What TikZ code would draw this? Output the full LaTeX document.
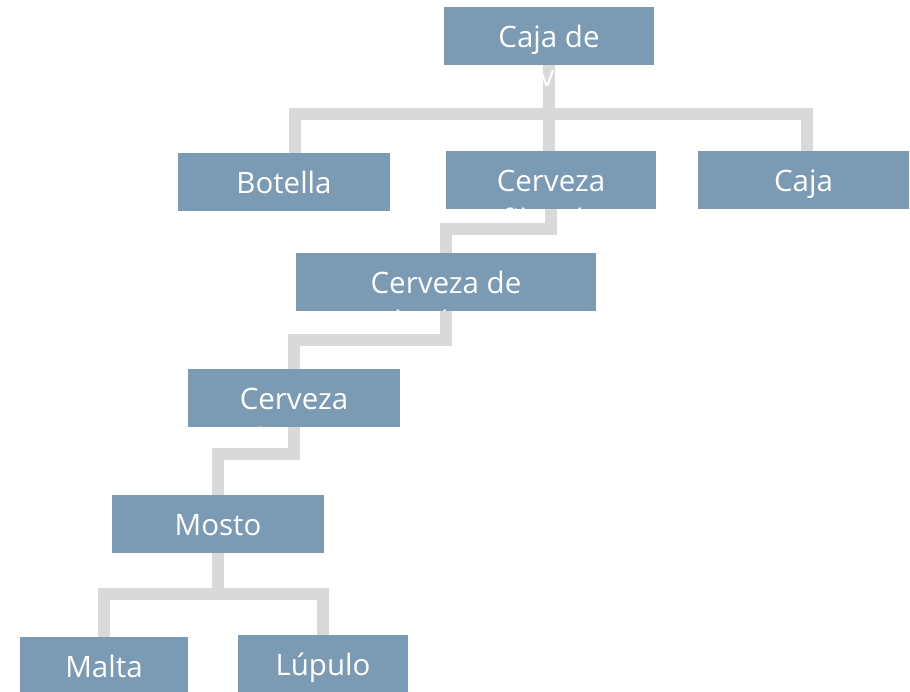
\documentclass[tikz,border=0pt]{standalone}
\usepackage{fontspec}
\setmainfont{Open Sans}
\definecolor{boxfill}{HTML}{7B9AB4}
\definecolor{connc}{HTML}{D9D9D9}
\tikzset{
  box/.style={rectangle, fill=boxfill, draw=none, inner sep=0pt, minimum height=58pt},
  conn/.style={draw=connc, line width=12pt, line join=miter, line cap=butt},
  lbl/.style={anchor=base, inner sep=0pt, text=white, font=\fontsize{29.5}{39}\selectfont}
}
\newcommand{\twol}[2]{\begin{tabular}[t]{@{}c@{}}#1\\#2\end{tabular}}
\begin{document}
\begin{tikzpicture}[x=1pt,y=-1pt]
\useasboundingbox (0,0) rectangle (910,692);
\clip (0,0) rectangle (910,692);
% boxes
\node[box, minimum width=210pt] (cc) at (549,36) {};
\node[box, minimum width=212pt] (bot) at (284,182) {};
\node[box, minimum width=210pt] (cf) at (551,180) {};
\node[box, minimum width=211pt] (caja) at (803.5,180) {};
\node[box, minimum width=300pt] (cd) at (446,282) {};
\node[box, minimum width=212pt] (cj) at (294,398) {};
\node[box, minimum width=212pt] (mo) at (218,524) {};
\node[box, minimum width=168pt] (ma) at (104,666) {};
\node[box, minimum width=170pt] (lu) at (323,664) {};
% top-level connectors
\coordinate (j1) at (549,114);
\draw[conn] (cc.south) -- (cc.south |- cf.north);
\draw[conn] ([xshift=11pt]bot.north) |- (j1);
\draw[conn] ([xshift=3pt]caja.north) |- (j1);
% labels
\node[lbl] (tcc) at ([yshift=-41pt]cc.north) {\twol{Caja de}{cerveza}};
\node[lbl] (tbot) at ([yshift=-41pt]bot.north) {Botella};
\node[lbl] (tcf) at ([yshift=-41pt]cf.north) {\twol{Cerveza}{filtrada}};
\node[lbl] (tcaja) at ([yshift=-41pt]caja.north) {Caja};
\node[lbl] (tcd) at ([yshift=-41pt]cd.north) {\twol{Cerveza de}{bodega}};
\node[lbl] (tcj) at ([yshift=-41pt]cj.north) {\twol{Cerveza}{joven}};
\node[lbl] (tmo) at ([yshift=-41pt]mo.north) {Mosto};
\node[lbl] (tma) at ([yshift=-41pt]ma.north) {Malta};
\node[lbl] (tlu) at ([yshift=-41pt]lu.north) {Lúpulo};
% lower connectors
\coordinate (j2) at (551,229);
\draw[conn] (cf.south) -- (j2) -| (cd.north);
\coordinate (j3) at (446,340);
\draw[conn] (cd.south) -- (j3) -| (cj.north);
\coordinate (j4) at (294,454);
\draw[conn] (cj.south) -- (j4) -| (mo.north);
\coordinate (j5) at (218,594);
\draw[conn] (mo.south) -- (j5);
\draw[conn] (ma.north) |- (j5);
\draw[conn] (lu.north) |- (j5);
\end{tikzpicture}
\end{document}
